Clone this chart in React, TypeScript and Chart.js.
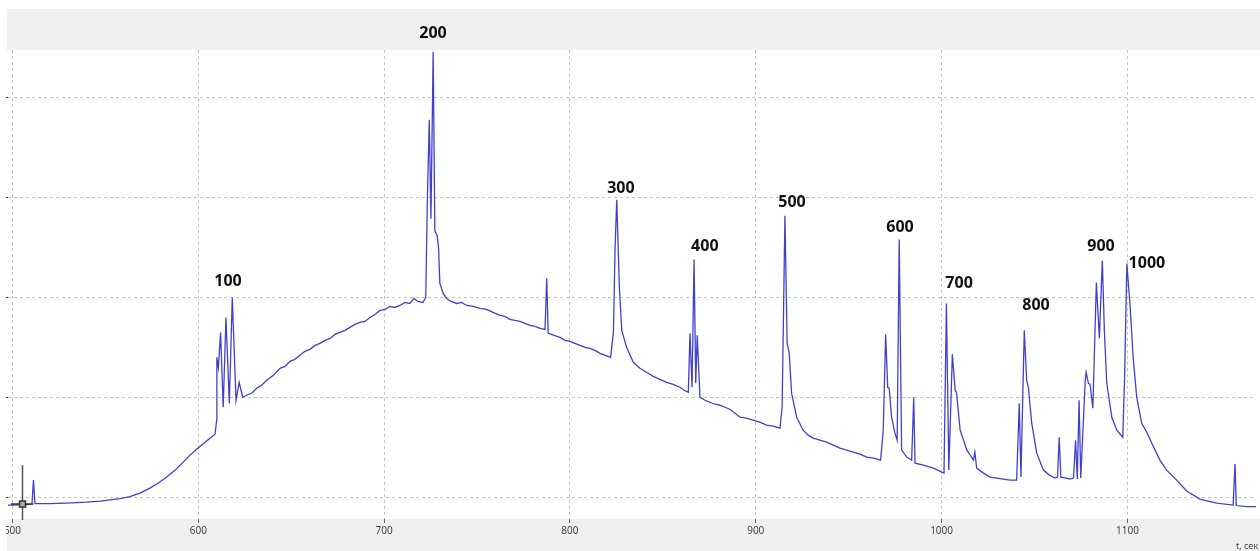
import React, { useEffect, useRef } from 'react';
import { Chart, registerables } from 'chart.js';

Chart.register(...registerables);

// Time axis (seconds)
const timeSec: number[] = [
  497.6, 500, 505, 508.3, 510.5, 511.3, 512.1, 520, 529.2, 540,
  547.1, 557.9, 563.2, 568.6, 574.0, 578.5, 583.0, 587.5, 591.9, 595.5,
  599.1, 603, 606.3, 609.0, 609.9, 610.0, 610.8, 612.0, 613.4, 614.9,
  616.7, 618.3, 620.3, 622.0, 623.9, 626.0, 628.7, 631.4, 634.1, 636.8,
  640.4, 644.0, 646.7, 649.4, 652.0, 654.7, 657.4, 660.1, 662.8, 665.5,
  668.2, 670.9, 673.6, 676.2, 678.9, 681.6, 684.3, 687.0, 689.7, 692.4,
  695.1, 697.8, 700.5, 703.1, 705.8, 708.5, 711.2, 713.9, 716.0, 718.2,
  720.9, 722.4, 723.3, 724.3, 725.2, 726.4, 727.3, 728.5, 729.3, 730.0,
  731.8, 733.6, 736.0, 739.0, 741.7, 744.4, 748.0, 751.6, 755.1, 758.6,
  762.3, 765.0, 767.7, 770.4, 773.1, 775.8, 778.5, 781.2, 783.9, 786.6,
  787.5, 788.3, 791.5, 794.6, 797.3, 800.0, 802.7, 805.4, 808.1, 810.8,
  813.5, 816.2, 819.0, 821.9, 823.4, 824.3, 825.2, 826.6, 827.9, 830.5,
  834.1, 837.7, 841.2, 844.8, 848.4, 852.0, 855.6, 859.2, 861.5, 863.7,
  864.6, 865.7, 866.8, 867.7, 868.5, 870.0, 872.7, 875.3, 878.0, 880.7,
  883.4, 886.1, 888.8, 891.5, 895.0, 898.6, 902.2, 905.8, 909.4, 913.0,
  914.2, 915.7, 916.9, 918.0, 919.3, 922.0, 925.5, 928.2, 930.9, 934.5,
  938.1, 941.7, 945.3, 948.9, 952.5, 956.1, 959.7, 963.5, 967.2, 968.6,
  969.9, 971.0, 971.8, 973.1, 974.9, 976.1, 977.2, 978.5, 981.2, 983.9,
  985.0, 985.7, 990.2, 995.6, 1000.1, 1001.3, 1002.6, 1003.9, 1005.8, 1007.3,
  1008.0, 1010.0, 1013.6, 1017.2, 1017.9, 1018.9, 1022.5, 1026.1, 1029.7, 1033.2,
  1036.8, 1040.4, 1041.8, 1042.7, 1044.5, 1045.8, 1046.7, 1048.5, 1051.2, 1054.8,
  1058.0, 1061.1, 1062.4, 1063.3, 1064.2, 1067.0, 1069.2, 1071.0, 1072.1, 1073.0,
  1074.0, 1074.9, 1077.3, 1077.8, 1079.0, 1079.9, 1081.4, 1083.3, 1084.9, 1086.5,
  1087.6, 1088.9, 1091.6, 1094.3, 1097.5, 1098.5, 1099.7, 1101.5, 1103.1, 1105.0,
  1107.7, 1110.4, 1113.9, 1117.5, 1121.1, 1126.5, 1131.9, 1139.0, 1148.0, 1156.9,
  1157.9, 1158.6, 1164.2, 1169.2,
];

// Detector signal (arbitrary units)
const signal: number[] = [
  -8, -8, -7.5, -7.5, -7, 17, -6.5, -6.5, -6, -5,
  -4, -1.5, 0.5, 4, 9, 14, 20, 27, 35, 42,
  48, 54, 59, 63, 77, 140, 130, 165, 90, 180,
  94, 200, 97, 115, 100, 102, 104, 109, 112, 117,
  122, 129, 131, 136, 138, 142, 146, 148, 152, 154,
  157, 159, 163, 165, 167, 170, 173, 175, 176, 180,
  183, 187, 188, 191, 190, 192, 195, 194, 199, 196,
  195, 200, 300, 378, 279, 446, 267, 262, 250, 214,
  204, 199, 196, 194, 195, 192, 191, 189, 188, 185,
  182, 181, 178, 177, 176, 174, 172, 171, 169, 168,
  219, 164, 162, 160, 157, 156, 154, 152, 150, 149,
  147, 144, 142, 140, 165, 250, 298, 210, 167, 150,
  135, 129, 125, 121, 118, 115, 113, 110, 107, 105,
  164, 110, 238, 114, 162, 100, 97, 95, 93, 92,
  90, 88, 84, 80, 79, 77, 75, 72, 71, 69,
  90, 282, 154, 144, 104, 80, 67, 62, 59, 57,
  55, 52, 49, 47, 45, 43, 40, 39, 37, 67,
  163, 110, 109, 80, 64, 57, 258, 47, 40, 37,
  100, 34, 32, 29, 25, 24, 194, 27, 143, 107,
  105, 67, 47, 37, 45, 29, 24, 20, 19, 18,
  17, 17, 94, 20, 167, 117, 110, 74, 44, 27,
  22, 19, 20, 60, 20, 19, 18, 19, 57, 18,
  97, 19, 117, 125, 114, 113, 89, 215, 159, 237,
  167, 114, 80, 67, 60, 120, 234, 190, 140, 100,
  74, 65, 51, 37, 27, 17, 6, -2, -6, -8,
  33, -8.5, -9.5, -9.5,
];

const xTicks: number[] = [500, 600, 700, 800, 900, 1000, 1100];
const yGrid: number[] = [0, 100, 200, 300, 400];

const peakLabels: string[] = ['100', '200', '300', '400', '500', '600', '700', '800', '900', '1000'];
const peakLabelT: number[] = [616.0, 726.3, 827.4, 872.6, 919.5, 977.6, 1009.4, 1050.8, 1085.8, 1110.5];
const peakLabelV: number[] = [216, 465, 309, 251, 295, 270, 214, 192, 251, 234];

const xAxisTitle = 't, сек';
const cursorT = 505.2;
const cursorTopV = 32;
const cursorBottomV = -23;
const cursorMarkV = -7;

export default function App() {
  const ref = useRef<HTMLCanvasElement>(null);

  useEffect(() => {
    const canvas = ref.current;
    if (!canvas) return;

    const points = timeSec.map((t, i) => ({ x: t, y: signal[i] }));

    const bgPlugin = {
      id: 'bgPlugin',
      beforeDraw(chart: any) {
        const c = chart.ctx;
        const a = chart.chartArea;
        c.save();
        c.fillStyle = '#ffffff';
        c.fillRect(0, 0, chart.width, chart.height);
        c.fillStyle = '#f0f0f0';
        c.fillRect(a.left - 1, 9, chart.width, a.top - 9);
        c.fillRect(a.left - 1, a.bottom, chart.width, chart.height - a.bottom);
        c.restore();
      },
    };

    const overlayPlugin = {
      id: 'overlayPlugin',
      afterDatasetsDraw(chart: any) {
        const c = chart.ctx;
        const xs = chart.scales.x;
        const ys = chart.scales.y;
        const cx = Math.round(xs.getPixelForValue(cursorT)) + 0.5;
        c.save();
        c.strokeStyle = '#555';
        c.lineWidth = 1.5;
        c.beginPath();
        c.moveTo(cx, ys.getPixelForValue(cursorTopV));
        c.lineTo(cx, ys.getPixelForValue(cursorBottomV));
        c.stroke();
        const my = ys.getPixelForValue(cursorMarkV);
        c.strokeStyle = '#333';
        c.lineWidth = 1.5;
        c.beginPath();
        c.moveTo(xs.getPixelForValue(cursorT - 6), my);
        c.lineTo(xs.getPixelForValue(cursorT + 6), my);
        c.stroke();
        c.fillStyle = '#aaa';
        c.fillRect(cx - 3, my - 3, 6, 6);
        c.strokeRect(cx - 3, my - 3, 6, 6);
        c.restore();
      },
      afterDraw(chart: any) {
        const c = chart.ctx;
        const xs = chart.scales.x;
        const ys = chart.scales.y;
        c.save();
        c.fillStyle = '#ffffff';
        c.fillRect(0, 0, 6, chart.height);
        c.fillStyle = '#111';
        c.font = 'bold 16px "Open Sans", "DejaVu Sans", sans-serif';
        c.textAlign = 'center';
        c.textBaseline = 'middle';
        peakLabels.forEach((lab, i) => {
          c.fillText(lab, xs.getPixelForValue(peakLabelT[i]), ys.getPixelForValue(peakLabelV[i]));
        });
        c.fillStyle = '#444';
        c.font = '9px "Noto Sans", sans-serif';
        c.textAlign = 'right';
        c.fillText(xAxisTitle, chart.width - 2, chart.height - 5);
        c.restore();
      },
    };

    const chart = new Chart(canvas, {
      type: 'line',
      data: {
        datasets: [
          {
            data: points,
            borderColor: 'rgb(64, 64, 205)',
            borderWidth: 1.3,
            pointRadius: 0,
            tension: 0,
            fill: false,
          },
        ],
      },
      options: {
        responsive: false,
        animation: false,
        devicePixelRatio: 1,
        layout: { padding: { top: 50, right: 4, left: 0, bottom: 0 } },
        plugins: {
          legend: { display: false },
          tooltip: { enabled: false },
        },
        scales: {
          x: {
            type: 'linear',
            min: 497.6,
            max: 1169.2,
            afterBuildTicks: (s: any) => {
              s.ticks = xTicks.map((v) => ({ value: v }));
            },
            afterFit: (s: any) => {
              s.height = 32;
              s.paddingLeft = 0;
              s.paddingRight = 0;
            },
            ticks: {
              color: '#444',
              font: { size: 10, family: '"Noto Sans", sans-serif' },
              padding: 2,
              maxRotation: 0,
              autoSkip: false,
              callback: (v: any) => String(v),
            },
            grid: {
              color: '#c4c4c4',
              tickColor: '#666',
              tickLength: 4,
              tickBorderDash: [],
            },
            border: { display: false, dash: [3, 3] },
          },
          y: {
            type: 'linear',
            min: -22,
            max: 448,
            afterBuildTicks: (s: any) => {
              s.ticks = yGrid.map((v) => ({ value: v }));
            },
            afterFit: (s: any) => {
              s.width = 8;
              s.paddingTop = 0;
              s.paddingBottom = 0;
            },
            ticks: { display: false },
            grid: {
              color: '#c4c4c4',
              tickColor: '#444',
              tickLength: 4,
              tickBorderDash: [],
            },
            border: { display: false, dash: [3, 3] },
          },
        },
      },
      plugins: [bgPlugin, overlayPlugin],
    } as any);

    return () => chart.destroy();
  }, []);

  return (
    <div style={{ position: 'fixed', left: 0, top: 0, width: 1260, height: 551, background: '#fff' }}>
      <canvas ref={ref} width={1260} height={551} style={{ display: 'block', width: 1260, height: 551 }} />
    </div>
  );
}
